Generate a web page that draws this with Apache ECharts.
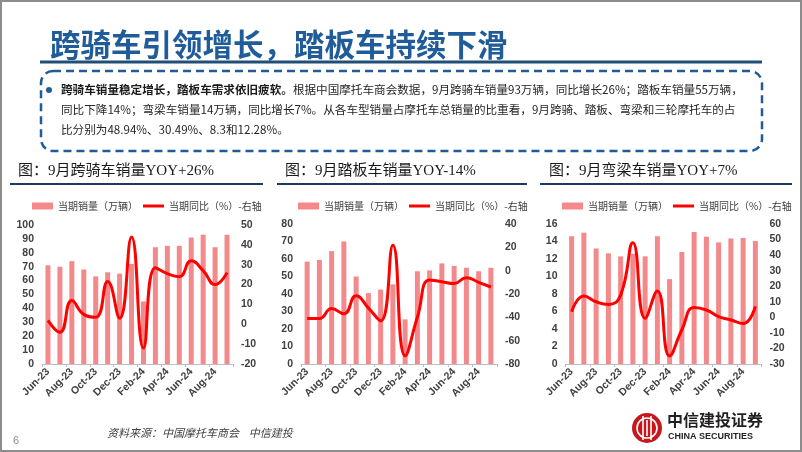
<!DOCTYPE html>
<html><head><meta charset="utf-8">
<script src="https://cdn.jsdelivr.net/npm/echarts@6/dist/echarts.min.js"></script>
<style>html,body{margin:0;padding:0;background:#fff}#c{width:802px;height:452px}</style>
</head><body><div id="c"></div>
<script>
// ---- data ----
const months = ['Jun-23','Jul-23','Aug-23','Sep-23','Oct-23','Nov-23','Dec-23','Jan-24','Feb-24','Mar-24','Apr-24','May-24','Jun-24','Jul-24','Aug-24','Sep-24'];
const straddleSales = [71, 70, 74, 68, 63, 66, 65, 72, 45, 84, 85, 85, 91, 93, 84, 93];
const straddleYoy   = [2, -4, 12, 5, 3.5, 21.5, 3, 44, -12, 28.5, 25.5, 24, 32, 27, 20, 26];
const scooterSales  = [58.5, 59.5, 64.5, 70, 50, 40.5, 42.5, 45.5, 25.5, 53, 53.5, 57.5, 56, 55, 53, 55];
const scooterYoy    = [-41, -41, -32.5, -37, -21.5, -32, -43, 21.7, -73, -40, -8, -9.5, -11, -6, -10, -14];
const underboneSales= [14.6, 15.0, 13.2, 12.65, 12.3, 12.6, 12.3, 14.6, 9.7, 12.8, 15.1, 14.55, 13.9, 14.35, 14.4, 14.05];
const underboneYoy  = [3.6, 13.7, 10, 8.3, 14.3, 48, -0.6, 17, -24.8, -8, 6.3, 4.7, 0.5, -1.7, -4, 7];
const barName = '当期销量（万辆）';
const lineName = '当期同比（%）-右轴';
const leftAxes  = [{min:0,max:100,interval:10},{min:0,max:80,interval:10},{min:0,max:16,interval:2}];
const rightAxes = [{min:-20,max:50,interval:10},{min:-80,max:40,interval:20},{min:-30,max:60,interval:10}];
const subTitles = ['图：9月跨骑车销量YOY+26%','图：9月踏板车销量YOY-14%','图：9月弯梁车销量YOY+7%'];

// ---- layout ----
const grids = [
  {left:42, top:225, width:191, height:139},
  {left:301, top:224, width:196, height:140},
  {left:565.5, top:224, width:196, height:140}
];
const legendLeft = [27, 293, 557];
const subX = [18, 285, 549];
const underline = [[10,263],[277,527],[540,792]];
const CJK = '"Noto Sans CJK SC"';
const axisFont = '"Liberation Sans", Arial, sans-serif';
const lblColor = '#404040';

const xAxis = [], yAxis = [], series = [], legend = [];
const salesArr = [straddleSales, scooterSales, underboneSales];
const yoyArr = [straddleYoy, scooterYoy, underboneYoy];
for (let i = 0; i < 3; i++) {
  xAxis.push({type:'category', gridIndex:i, data:months, boundaryGap:true,
    axisLine:{lineStyle:{color:'#bfbfbf', width:1}},
    axisTick:{show:true, interval:1, length:3, lineStyle:{color:'#bfbfbf'}},
    axisLabel:{interval:1, rotate:45, fontSize:10.5, fontWeight:'bold', color:lblColor, margin:6, fontFamily:axisFont}});
  const common = {type:'value', gridIndex:i, axisLine:{show:false}, axisTick:{show:false}, splitLine:{show:false}};
  yAxis.push(Object.assign({}, common, leftAxes[i], {position:'left',
    axisLabel:{fontSize:10.5, fontWeight:'bold', color:lblColor, margin:8, fontFamily:axisFont}}));
  yAxis.push(Object.assign({}, common, rightAxes[i], {position:'right',
    axisLabel:{fontSize:10.5, fontWeight:'bold', color:lblColor, margin:8, fontFamily:axisFont}}));
  series.push({name:barName, type:'bar', xAxisIndex:i, yAxisIndex:2*i, data:salesArr[i], barWidth:5,
    itemStyle:{color:'#F4898B'}, z:2});
  series.push({name:lineName, type:'line', xAxisIndex:i, yAxisIndex:2*i+1, data:yoyArr[i], smooth:0.5,
    symbol:'none', lineStyle:{width:3, color:'#FF0000'}, itemStyle:{color:'#FF0000'}, z:3});
  legend.push({left:legendLeft[i], top:196, itemWidth:21, itemHeight:7, itemGap:5,
    selectedMode:false, symbolKeepAspect:true,
    textStyle:{fontSize:10, color:lblColor, fontFamily:CJK},
    data:[{name:barName, icon:'rect'}, {name:lineName, icon:'path://M0,0H21V3H0Z'}]});
}

const graphic = [];
// outer border
graphic.push({type:'rect', shape:{x:1,y:1,width:800,height:450}, style:{fill:'none', stroke:'#8c8c8c', lineWidth:2}, silent:true});
// main title
graphic.push({type:'text', style:{text:'跨骑车引领增长，踏板车持续下滑', x:50, y:44, textVerticalAlign:'middle',
  font:'bold 30.5px ' + CJK, fill:'#1F5C99'}});
graphic.push({type:'line', shape:{x1:40,y1:62,x2:762,y2:62}, style:{stroke:'#1F4E79', lineWidth:3}});
// dashed box
graphic.push({type:'rect', shape:{x:41,y:71,width:721,height:80,r:12}, style:{fill:'none', stroke:'#1F5C99', lineWidth:2.5, lineDash:[8,5]}});
graphic.push({type:'circle', shape:{cx:49, cy:90, r:3}, style:{fill:'#1F5C99'}});
const bodyFont = CJK;
graphic.push({type:'text', style:{
  text:'{b|跨骑车销量稳定增长，踏板车需求依旧疲软。}{n|根据中国摩托车商会数据，9月跨骑车销量93万辆，同比增长26%；踏板车销量55万辆，}',
  x:61, y:90, textVerticalAlign:'middle',
  rich:{b:{fontSize:11.6, fontWeight:'bold', fontFamily:bodyFont, fill:'#1a1a1a'}, n:{fontSize:11.6, fontFamily:bodyFont, fill:'#262626'}}}});
graphic.push({type:'text', style:{text:'同比下降14%；弯梁车销量14万辆，同比增长7%。从各车型销量占摩托车总销量的比重看，9月跨骑、踏板、弯梁和三轮摩托车的占',
  x:61, y:110, textVerticalAlign:'middle', font:'11.6px ' + bodyFont, fill:'#262626'}});
graphic.push({type:'text', style:{text:'比分别为48.94%、30.49%、8.3和12.28%。',
  x:61, y:130, textVerticalAlign:'middle', font:'11.6px ' + bodyFont, fill:'#262626'}});
// sub titles
for (let i = 0; i < 3; i++) {
  graphic.push({type:'text', style:{text:subTitles[i], x:subX[i], y:171, textVerticalAlign:'middle',
    font:'15px "Liberation Serif", ' + CJK, fill:'#1a1a1a'}});
  graphic.push({type:'line', shape:{x1:underline[i][0], y1:184, x2:underline[i][1], y2:184}, style:{stroke:'#1F3864', lineWidth:2}});
}
// footer
graphic.push({type:'text', style:{text:'6', x:13, y:441, textVerticalAlign:'middle', font:'11px ' + axisFont, fill:'#8c8c8c'}});
graphic.push({type:'text', style:{text:'资料来源：中国摩托车商会    中信建投', x:107, y:433, textVerticalAlign:'middle', font:'italic 11px ' + CJK, fill:'#404040'}});
// logo
graphic.push({type:'circle', shape:{cx:647, cy:428, r:15}, style:{fill:'#C8161D'}});
graphic.push({type:'circle', shape:{cx:647, cy:428, r:10}, style:{fill:'none', stroke:'#fff', lineWidth:1.6}});
graphic.push({type:'line', shape:{x1:643, y1:416, x2:643, y2:440}, style:{stroke:'#fff', lineWidth:1.6}});
graphic.push({type:'line', shape:{x1:651, y1:416, x2:651, y2:440}, style:{stroke:'#fff', lineWidth:1.6}});
graphic.push({type:'line', shape:{x1:647, y1:420, x2:647, y2:436}, style:{stroke:'#fff', lineWidth:1.6}});
graphic.push({type:'text', style:{text:'中信建投证券', x:667, y:420, textVerticalAlign:'middle', font:'bold 16px ' + CJK, fill:'#231F20'}});
graphic.push({type:'text', style:{text:'CHINA SECURITIES', x:668, y:437, textVerticalAlign:'middle', font:'bold 9px ' + axisFont, fill:'#231F20'}});

const chart = echarts.init(document.getElementById('c'));
chart.setOption({
  animation:false,
  backgroundColor:'#ffffff',
  grid: grids,
  xAxis, yAxis, series, legend, graphic
});
</script></body></html>
